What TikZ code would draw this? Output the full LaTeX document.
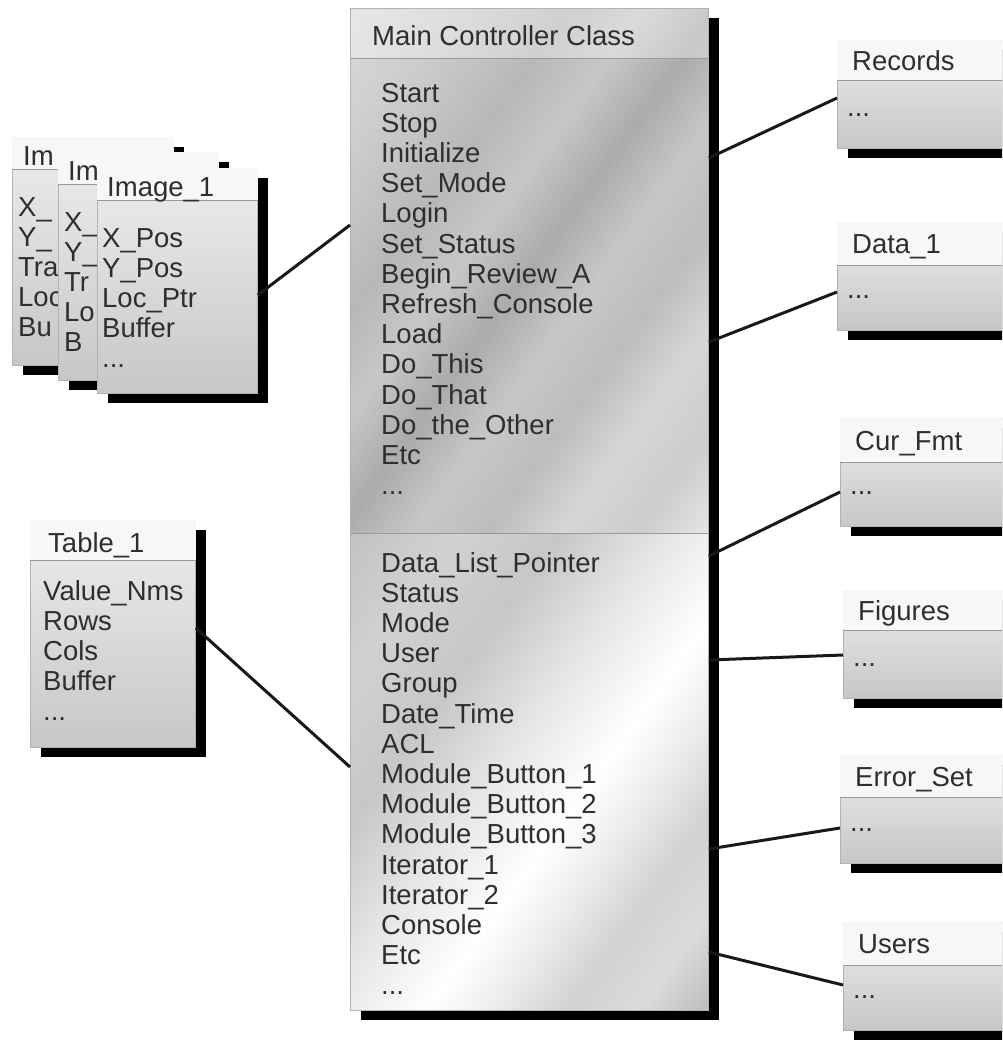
\documentclass[tikz,border=0pt]{standalone}
\usepackage{fontspec}
\setmainfont{Liberation Sans}
\usetikzlibrary{shadows}
% brushed grey bands of the controller class
\pgfdeclarehorizontalshading{brushtop}{100bp}{color(0bp)=(black!14); color(25bp)=(black!14);
  color(32.5bp)=(black!20); color(40bp)=(black!28); color(45bp)=(black!22); color(50bp)=(black!33);
  color(55bp)=(black!22); color(60bp)=(black!26); color(65bp)=(black!16); color(70bp)=(black!20);
  color(75bp)=(black!10); color(100bp)=(black!10)}
\pgfdeclarehorizontalshading{brushbot}{100bp}{color(0bp)=(black!24); color(25bp)=(black!24);
  color(32.5bp)=(black!18); color(40bp)=(black!22); color(47.5bp)=(black!10); color(55bp)=(white);
  color(60bp)=(black!8); color(65bp)=(black!18); color(70bp)=(black!14); color(75bp)=(black!26);
  color(100bp)=(black!26)}
\newcommand{\etcdots}{...}

\begin{document}
\begin{tikzpicture}[x=1pt, y=-1pt,
  font=\fontsize{27.5}{30.2}\selectfont, text=black!82,
  cls/.style={draw=black!30, line width=0.8pt, anchor=north west, inner sep=0pt,
    top color=black!7, bottom color=black!22,
    general shadow={fill=black, shadow xshift=11pt, shadow yshift=-10pt}},
  hdr/.style={fill=black!3},
  rule/.style={draw=black!40, line width=0.8pt},
  item/.style={anchor=base west, inner sep=0pt},
  link/.style={line width=3pt, black!90}]

  \clip (0,0) rectangle (1002,1042);

  % --- main controller class ---
  \node[cls, minimum width=358pt, minimum height=1002pt] (main) at (350,8) {};
  \begin{scope}
    \clip (main.north west) rectangle (main.east |- 0,533);
    \shade[shading=brushtop, transform canvas={rotate around={-36:(529,270.5)}}]
      (229,-47.5) rectangle (829,588.5);
  \end{scope}
  \begin{scope}
    \clip (main.west |- 0,533) rectangle (main.south east);
    \shade[shading=brushbot, transform canvas={rotate around={-36:(529,771.5)}}]
      (244,473.5) rectangle (814,1069.5);
  \end{scope}
  \fill[white, opacity=0.35] (main.north west) rectangle (main.east |- 0,58);
  \draw[rule] (main.west |- 0,58) -- (main.east |- 0,58);
  \draw[rule] (main.west |- 0,533) -- (main.east |- 0,533);
  \draw[draw=black!30, line width=0.8pt] (main.north west) rectangle (main.south east);
  \node[item] (mtitle) at (372,45) {Main Controller Class};
  \foreach \t [count=\i from 0] in {Start, Stop, Initialize, Set\_Mode, Login, Set\_Status,
      Begin\_Review\_A, Refresh\_Console, Load, Do\_This, Do\_That, Do\_the\_Other, Etc, \etcdots}
    \node[item] (op\i) at (381,{102+30.2*\i}) {\t};
  \foreach \t [count=\i from 0] in {Data\_List\_Pointer, Status, Mode, User, Group, Date\_Time,
      ACL, Module\_Button\_1, Module\_Button\_2, Module\_Button\_3, Iterator\_1, Iterator\_2,
      Console, Etc, \etcdots}
    \node[item] (at\i) at (381,{572+30.2*\i}) {\t};

  % --- image stack (back to front) ---
  \node[cls, minimum width=161pt, minimum height=228pt] (img3) at (12,137) {};
  \fill[hdr] ([shift={(0.4,0.4)}]img3.north west) rectangle (img3.east |- 0,169);
  \draw[rule] (img3.west |- 0,169) -- (img3.east |- 0,169);
  \node[item] (img3t) at (23,165) {Im};
  \foreach \t [count=\i from 0] in {X\_, Y\_, Tra, Loc, Bu}
    \node[item] (img3f\i) at (18,{216+30.2*\i}) {\t};

  \node[cls, minimum width=160pt, minimum height=228pt] (img2) at (58,152) {};
  \fill[hdr] ([shift={(0.4,0.4)}]img2.north west) rectangle (img2.east |- 0,184);
  \draw[rule] (img2.west |- 0,184) -- (img2.east |- 0,184);
  \node[item] (img2t) at (68,180) {Im};
  \foreach \t [count=\i from 0] in {X\_, Y\_, Tr, Lo, B}
    \node[item] (img2f\i) at (64,{231+30.2*\i}) {\t};

  \node[cls, minimum width=160pt, minimum height=225pt] (img1) at (97,168) {};
  \fill[hdr] ([shift={(0.4,0.4)}]img1.north west) rectangle (img1.east |- 0,200);
  \draw[rule] (img1.west |- 0,200) -- (img1.east |- 0,200);
  \node[item] (img1t) at (107,196) {Image\_1};
  \foreach \t [count=\i from 0] in {X\_Pos, Y\_Pos, Loc\_Ptr, Buffer, \etcdots}
    \node[item] (img1f\i) at (102,{247+30.2*\i}) {\t};

  % --- table ---
  \node[cls, minimum width=165pt, minimum height=227pt] (tbl) at (30,520) {};
  \fill[hdr] ([shift={(0.4,0.4)}]tbl.north west) rectangle (tbl.east |- 0,560);
  \draw[rule] (tbl.west |- 0,560) -- (tbl.east |- 0,560);
  \node[item] (tblt) at (48,552) {Table\_1};
  \foreach \t [count=\i from 0] in {Value\_Nms, Rows, Cols, Buffer, \etcdots}
    \node[item] (tblf\i) at (43,{600+30.2*\i}) {\t};

  % --- right column ---
  \foreach \nm/\ttl/\x/\y/\h in {rec/Records/837/40/40, dat/Data\_1/837/222/43,
      fmt/Cur\_Fmt/840/418/44, fig/Figures/843/590/40, err/Error\_Set/840/755/42,
      usr/Users/843/922/43} {
    \pgfmathsetmacro\ys{\y+\h}
    \node[cls, minimum width=185pt, minimum height=108pt] (\nm) at (\x,\y) {};
    \fill[hdr] ([shift={(0.4,0.4)}]\nm.north west) rectangle (\nm.east |- 0,\ys);
    \draw[rule] (\nm.west |- 0,\ys) -- (\nm.east |- 0,\ys);
    \node[item] (\nm-t) at ({\x+15},{\y+\h/2+10}) {\ttl};
    \node[item] (\nm-d) at ({\x+10},{\y+76}) {\etcdots};
  }

  % --- links ---
  \draw[link] (img1.east |- 0,295) -- (main.west |- 0,225);
  \draw[link] (tbl.east |- 0,628) -- (main.west |- 0,767);
  \draw[link] (main.east |- 0,158) -- (rec.west |- 0,98);
  \draw[link] (main.east |- 0,342) -- (dat.west |- 0,292);
  \draw[link] (main.east |- 0,556) -- (fmt.west |- 0,492);
  \draw[link] (main.east |- 0,660) -- (fig.west |- 0,655);
  \draw[link] (main.east |- 0,849) -- (err.west |- 0,828);
  \draw[link] (main.east |- 0,952) -- (usr.west |- 0,985);
\end{tikzpicture}
\end{document}
